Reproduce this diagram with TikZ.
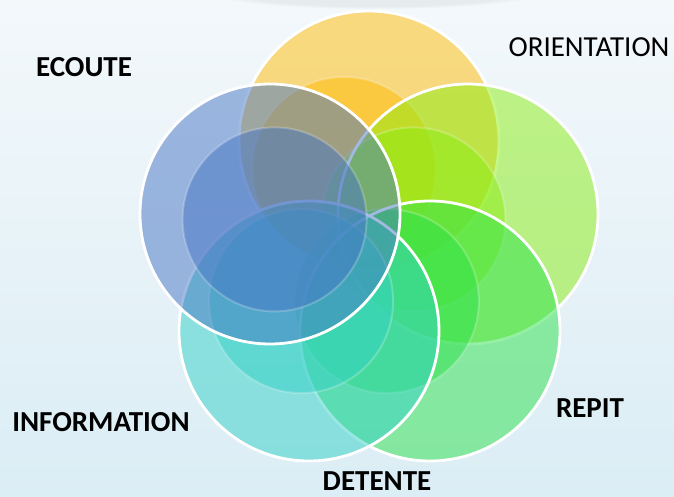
\documentclass[tikz,border=0pt]{standalone}
\usepackage{fontspec}
\setmainfont{Carlito}
\usetikzlibrary{fadings}
\definecolor{bgtop}{RGB}{243,248,251}
\definecolor{bgbot}{RGB}{219,237,245}
\definecolor{shadowc}{RGB}{200,205,210}
\definecolor{cyel}{RGB}{255,188,3}
\definecolor{cgy}{RGB}{138,238,18}
\definecolor{cgrn}{RGB}{45,226,75}
\definecolor{cteal}{RGB}{51,209,198}
\definecolor{cblue}{RGB}{70,117,196}
\tikzset{
  outerc/.style={circle, inner sep=0pt, outer sep=0pt, minimum size=260pt, fill=#1, fill opacity=0.5},
  innerc/.style={circle, inner sep=0pt, outer sep=0pt, minimum size=184pt, fill=#1, fill opacity=0.5, draw=white, draw opacity=0.22, line width=2pt},
  rim/.style={draw=white, line width=2.8pt},
  lbl/.style={font=\fontsize{29}{34}\selectfont\bfseries, anchor=base, inner sep=0pt, text=black},
  lbln/.style={font=\fontsize{29}{34}\selectfont, anchor=base, inner sep=0pt, text=black},
}
\begin{document}
\begin{tikzpicture}[x=1pt,y=-1pt]
\shade[top color=bgtop, bottom color=bgbot] (0,0) rectangle (674,497);
\useasboundingbox (0,0) rectangle (674,497);
\fill[shadowc, opacity=0.3, path fading=circle with fuzzy edge 20 percent] (375,-6) ellipse[x radius=160pt, y radius=15pt];

% yellow (bottom layer)
\node[outerc=cyel] (yel) at (369,141) {};
\node[innerc=cyel] (yelin) at (344,169) {};
\draw[rim] (yel.center) circle[radius=130pt];
% yellow-green
\node[outerc=cgy] (gy) at (468,214) {};
\node[innerc=cgy] (gyin) at (413.4,219.4) {};
\draw[rim] (gy.center) circle[radius=130pt];
% green
\node[outerc=cgrn] (grn) at (430,331) {};
\node[innerc=cgrn] (grnin) at (386.9,301.1) {};
\draw[rim] (grn.center) circle[radius=130pt];
% teal
\node[outerc=cteal] (teal) at (309,331) {};
\node[innerc=cteal] (tealin) at (301.1,301.1) {};
\draw[rim] (teal.center) circle[radius=130pt];
% blue (top layer)
\node[outerc=cblue] (blue) at (270,214) {};
\node[innerc=cblue] (bluein) at (274.6,219.4) {};
\draw[rim] (blue.center) circle[radius=130pt];

% labels
\node[lbl] (lecoute) at (84,77) {ECOUTE};
\node[lbln] (lorient) at (589,57) {ORIENTATION};
\node[lbl] (linfo) at (101,431) {INFORMATION};
\node[lbl] (lrepit) at (590,417) {REPIT};
\node[lbl] (ldetente) at (377,490) {DETENTE};
\end{tikzpicture}
\end{document}
